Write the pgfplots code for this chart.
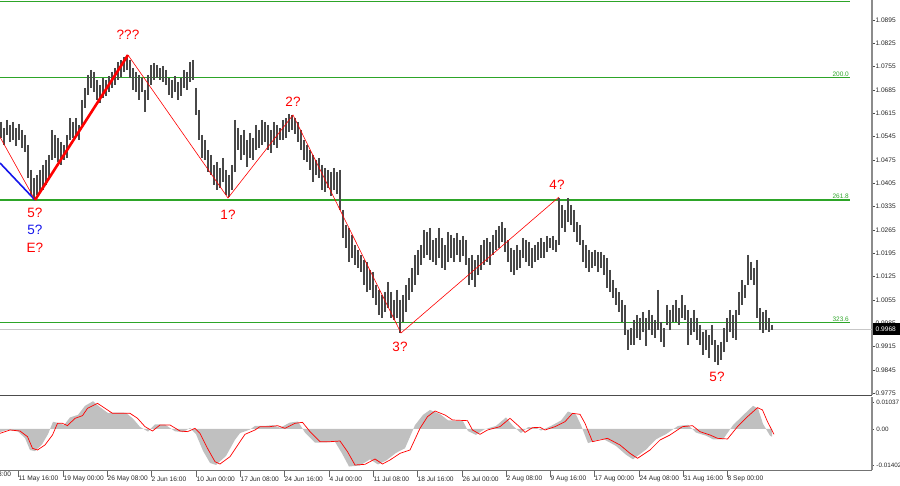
\documentclass[border=0pt]{standalone}
\usepackage{pgfplots}
\usepackage{pgfplotstable}
\pgfplotsset{compat=1.18}
\usepackage{fontspec}
\setmainfont{Liberation Sans}

\definecolor{lvl}{RGB}{45,165,40}
\definecolor{barcol}{RGB}{72,72,72}
\definecolor{zz}{RGB}{255,0,0}
\definecolor{bluez}{RGB}{20,20,235}
\definecolor{hist}{RGB}{192,192,192}

% price bars: x  high  low
\pgfplotstableread[row sep=\\]{
x hi lo\\
1 1.0589 1.0541\\ 4 1.0571 1.0520\\ 7 1.0595 1.0550\\ 10 1.0580 1.0529\\ 13 1.0589 1.0535\\
16 1.0571 1.0517\\ 19 1.0583 1.0535\\ 22 1.0565 1.0511\\ 25 1.0550 1.0499\\ 28 1.0520 1.0421\\
31 1.0445 1.0370\\ 34 1.0421 1.0355\\ 37 1.0430 1.0370\\ 40 1.0445 1.0379\\ 43 1.0460 1.0385\\
46 1.0475 1.0400\\ 49 1.0490 1.0421\\ 52 1.0565 1.0475\\ 55 1.0550 1.0481\\ 58 1.0541 1.0469\\
61 1.0529 1.0460\\ 64 1.0520 1.0475\\ 67 1.0550 1.0481\\ 70 1.0601 1.0535\\ 73 1.0589 1.0541\\
76 1.0601 1.0547\\ 79 1.0580 1.0535\\ 82 1.0655 1.0580\\ 85 1.0691 1.0631\\ 88 1.0730 1.0670\\
91 1.0745 1.0691\\ 94 1.0739 1.0679\\ 97 1.0715 1.0655\\ 100 1.0700 1.0646\\ 103 1.0721 1.0661\\
106 1.0715 1.0667\\ 109 1.0727 1.0679\\ 112 1.0739 1.0691\\ 115 1.0751 1.0700\\ 118 1.0769 1.0715\\
121 1.0775 1.0724\\ 124 1.0784 1.0739\\ 127 1.0790 1.0745\\ 130 1.0775 1.0721\\ 133 1.0751 1.0685\\
136 1.0739 1.0679\\ 139 1.0730 1.0655\\ 142 1.0721 1.0679\\ 145 1.0685 1.0619\\ 148 1.0730 1.0655\\
151 1.0760 1.0700\\ 154 1.0766 1.0715\\ 157 1.0760 1.0721\\ 160 1.0751 1.0715\\ 163 1.0757 1.0709\\
166 1.0745 1.0700\\ 169 1.0721 1.0670\\ 172 1.0715 1.0661\\ 175 1.0727 1.0679\\ 178 1.0709 1.0655\\
181 1.0721 1.0667\\ 184 1.0745 1.0691\\ 187 1.0739 1.0685\\ 190 1.0769 1.0709\\ 193 1.0775 1.0715\\
196 1.0691 1.0610\\ 199 1.0625 1.0535\\ 202 1.0550 1.0481\\ 205 1.0535 1.0475\\ 208 1.0505 1.0439\\
211 1.0490 1.0430\\ 214 1.0460 1.0400\\ 217 1.0469 1.0385\\ 220 1.0451 1.0391\\ 223 1.0481 1.0409\\
226 1.0445 1.0370\\ 229 1.0430 1.0364\\ 232 1.0460 1.0385\\ 235 1.0595 1.0439\\ 238 1.0571 1.0505\\
241 1.0550 1.0475\\ 244 1.0565 1.0490\\ 247 1.0535 1.0454\\ 250 1.0556 1.0481\\ 253 1.0541 1.0475\\
256 1.0580 1.0505\\ 259 1.0565 1.0511\\ 262 1.0595 1.0520\\ 265 1.0589 1.0529\\ 268 1.0580 1.0505\\
271 1.0565 1.0496\\ 274 1.0589 1.0520\\ 277 1.0580 1.0511\\ 280 1.0571 1.0535\\ 283 1.0595 1.0535\\
286 1.0601 1.0541\\ 289 1.0613 1.0559\\ 292 1.0610 1.0565\\ 295 1.0601 1.0553\\ 298 1.0589 1.0529\\
301 1.0565 1.0505\\ 304 1.0535 1.0475\\ 307 1.0520 1.0469\\ 310 1.0505 1.0445\\ 313 1.0490 1.0409\\
316 1.0475 1.0430\\ 319 1.0481 1.0421\\ 322 1.0460 1.0385\\ 325 1.0451 1.0379\\ 328 1.0445 1.0391\\
331 1.0439 1.0367\\ 334 1.0451 1.0385\\ 337 1.0439 1.0373\\ 340 1.0445 1.0325\\ 343 1.0325 1.0241\\
346 1.0280 1.0211\\ 349 1.0271 1.0169\\ 352 1.0250 1.0181\\ 355 1.0220 1.0160\\ 358 1.0205 1.0151\\
361 1.0190 1.0139\\ 364 1.0175 1.0100\\ 367 1.0169 1.0079\\ 370 1.0145 1.0085\\ 373 1.0139 1.0061\\
376 1.0100 1.0040\\ 379 1.0085 1.0010\\ 382 1.0070 1.0001\\ 385 1.0079 1.0019\\ 388 1.0109 1.0031\\
391 1.0079 1.0001\\ 394 1.0055 0.9995\\ 397 1.0085 1.0001\\ 400 1.0055 0.9956\\ 403 1.0070 0.9989\\
406 1.0100 1.0019\\ 409 1.0121 1.0055\\ 412 1.0151 1.0079\\ 415 1.0190 1.0100\\ 418 1.0205 1.0130\\
421 1.0220 1.0160\\ 424 1.0265 1.0181\\ 427 1.0259 1.0190\\ 430 1.0271 1.0175\\ 433 1.0235 1.0169\\
436 1.0241 1.0160\\ 439 1.0271 1.0181\\ 442 1.0241 1.0151\\ 445 1.0220 1.0145\\ 448 1.0259 1.0169\\
451 1.0250 1.0181\\ 454 1.0241 1.0169\\ 457 1.0256 1.0190\\ 460 1.0235 1.0169\\ 463 1.0247 1.0187\\
466 1.0235 1.0160\\ 469 1.0181 1.0100\\ 472 1.0190 1.0115\\ 475 1.0175 1.0094\\ 478 1.0190 1.0130\\
481 1.0220 1.0145\\ 484 1.0235 1.0160\\ 487 1.0241 1.0169\\ 490 1.0229 1.0160\\ 493 1.0250 1.0190\\
496 1.0265 1.0205\\ 499 1.0277 1.0211\\ 502 1.0289 1.0229\\ 505 1.0271 1.0199\\ 508 1.0235 1.0169\\
511 1.0211 1.0139\\ 514 1.0205 1.0130\\ 517 1.0220 1.0145\\ 520 1.0205 1.0151\\ 523 1.0241 1.0181\\
526 1.0235 1.0169\\ 529 1.0229 1.0157\\ 532 1.0211 1.0151\\ 535 1.0220 1.0169\\ 538 1.0229 1.0175\\
541 1.0241 1.0181\\ 544 1.0229 1.0181\\ 547 1.0247 1.0199\\ 550 1.0241 1.0211\\ 553 1.0247 1.0205\\
556 1.0235 1.0199\\ 559 1.0361 1.0220\\ 562 1.0340 1.0271\\ 565 1.0325 1.0259\\ 568 1.0361 1.0289\\
571 1.0340 1.0280\\ 574 1.0325 1.0259\\ 577 1.0289 1.0229\\ 580 1.0280 1.0220\\ 583 1.0235 1.0169\\
586 1.0220 1.0151\\ 589 1.0205 1.0139\\ 592 1.0199 1.0151\\ 595 1.0205 1.0157\\ 598 1.0199 1.0139\\
601 1.0199 1.0151\\ 604 1.0190 1.0130\\ 607 1.0181 1.0091\\ 610 1.0145 1.0079\\ 613 1.0115 1.0061\\
616 1.0091 1.0040\\ 619 1.0079 1.0019\\ 622 1.0055 0.9989\\ 625 1.0040 0.9950\\ 628 0.9965 0.9905\\
631 0.9971 0.9920\\ 634 0.9995 0.9920\\ 637 1.0010 0.9941\\ 640 1.0001 0.9935\\ 643 1.0019 0.9959\\
646 1.0001 0.9917\\ 649 1.0025 0.9965\\ 652 1.0010 0.9950\\ 655 0.9995 0.9941\\ 658 1.0085 0.9965\\
661 0.9989 0.9929\\ 664 0.9971 0.9914\\ 667 1.0040 0.9980\\ 670 1.0025 0.9965\\ 673 1.0040 0.9989\\
676 1.0055 0.9989\\ 679 1.0031 0.9980\\ 682 1.0070 1.0001\\ 685 1.0040 0.9995\\ 688 1.0025 0.9920\\
691 1.0001 0.9950\\ 694 1.0025 0.9959\\ 697 1.0001 0.9935\\ 700 0.9980 0.9920\\ 703 0.9959 0.9890\\
706 0.9965 0.9905\\ 709 0.9950 0.9881\\ 712 0.9980 0.9920\\ 715 0.9935 0.9869\\ 718 0.9920 0.9860\\
721 0.9929 0.9875\\ 724 0.9971 0.9899\\ 727 1.0001 0.9929\\ 730 1.0025 0.9959\\ 733 1.0010 0.9941\\
736 1.0025 0.9935\\ 739 1.0079 1.0010\\ 742 1.0115 1.0040\\ 745 1.0100 1.0061\\ 748 1.0190 1.0100\\
751 1.0169 1.0115\\ 754 1.0151 1.0100\\ 757 1.0175 1.0001\\ 760 1.0031 0.9965\\ 763 1.0019 0.9956\\
766 1.0025 0.9965\\ 769 1.0001 0.9959\\ 772 0.9980 0.9965\\
}\bars

\begin{document}
\begin{tikzpicture}
\path[use as bounding box] (0,0) rectangle (900pt,485pt);
\tikzset{wl/.style={font=\fontsize{13.5}{14}\selectfont}}

% ---------------- price panel
\begin{axis}[at={(0pt,89.5pt)}, anchor=south west, scale only axis,
 width=872pt, height=395.5pt, xmin=0, xmax=872, ymin=0.97685, ymax=1.0955,
 clip=false, axis x line*=bottom, axis y line*=right,
 x axis line style={draw=black!70, line width=1.6pt},
 y axis line style={draw=black!45, line width=1.5pt},
 xtick=\empty, tick align=outside, major tick length=3pt,
 ytick={0.9775,0.9845,0.9915,0.9985,1.0055,1.0125,1.0195,1.0265,1.0335,1.0405,1.0475,1.0545,1.0615,1.0685,1.0755,1.0825,1.0895},
 yticklabels={0.9775,0.9845,0.9915,0.9985,1.0055,1.0125,1.0195,1.0265,1.0335,1.0405,1.0475,1.0545,1.0615,1.0685,1.0755,1.0825,1.0895},
 ytick style={draw=black!70, line width=0.5pt},
 yticklabel style={font=\fontsize{6.6}{7}\selectfont, text=black!85, anchor=west, inner sep=0.3pt},
 /pgf/number format/assume math mode=true]

% levels
\addplot[draw=lvl, line width=1.5pt] coordinates {(0,1.0951) (850,1.0951)};
\addplot[draw=lvl, line width=1.5pt] coordinates {(0,1.0723) (850,1.0723)};
\addplot[draw=lvl, line width=1.5pt] coordinates {(0,1.0355) (850,1.0355)};
\addplot[draw=lvl, line width=1.5pt] coordinates {(0,0.99881) (850,0.99881)};
\addplot[draw=black!22, line width=1pt] coordinates {(0,0.99671) (872,0.99671)};

% bars
\addplot[draw=none, mark=none, error bars/.cd, y dir=minus, y explicit, error mark=none,
 error bar style={draw=barcol, solid, line width=1.3pt}]
 table[x=x, y=hi, y error minus expr=\thisrow{hi}-\thisrow{lo}] {\bars};

% wave lines
\addplot[draw=bluez, line width=1.6pt] coordinates {(0,1.0466) (35,1.0355)};
\addplot[draw=zz, line width=0.6pt] coordinates {(0,1.0544) (35,1.0355)};
\addplot[draw=zz, line width=2.6pt] coordinates {(35,1.0355) (128,1.0790)};
\addplot[draw=zz, line width=0.6pt] coordinates {(128,1.0790) (228,1.0361) (293,1.0610) (401,0.9956) (559,1.0364)};

% wave labels
\node[wl, text=zz] at (axis cs:128,1.0850) {???};
\node[wl, text=zz] at (axis cs:35,1.0316) {5?};
\node[wl, text=bluez] at (axis cs:35,1.0265) {5?};
\node[wl, text=zz] at (axis cs:35,1.0211) {E?};
\node[wl, text=zz] at (axis cs:228,1.0310) {1?};
\node[wl, text=zz] at (axis cs:293,1.0649) {2?};
\node[wl, text=zz] at (axis cs:400,0.9914) {3?};
\node[wl, text=zz] at (axis cs:557,1.0400) {4?};
\node[wl, text=zz] at (axis cs:717,0.9824) {5?};

% level labels
\node[anchor=south east, inner sep=1pt, text=lvl, font=\fontsize{6.5}{7}\selectfont] at (axis cs:850,1.0723) {200.0};
\node[anchor=south east, inner sep=1pt, text=lvl, font=\fontsize{6.5}{7}\selectfont] at (axis cs:850,1.0355) {261.8};
\node[anchor=south east, inner sep=1pt, text=lvl, font=\fontsize{6.5}{7}\selectfont] at (axis cs:850,0.99881) {323.6};

% current price tag
\node[anchor=west, fill=black, text=white, inner xsep=2.5pt, inner ysep=1.5pt, minimum height=12pt, text width=28pt, font=\fontsize{6.6}{7}\selectfont] at (axis cs:873,0.99671) {0.9968};
\end{axis}

% ---------------- indicator panel
\begin{axis}[at={(0pt,15pt)}, anchor=south west, scale only axis,
 width=872pt, height=72.5pt, xmin=0, xmax=872, ymin=-15.95, ymax=12.25,
 clip=false, axis x line*=bottom, axis y line*=right,
 x axis line style={draw=black!55, line width=1pt},
 y axis line style={draw=black!45, line width=1.5pt},
 tick align=outside,
 xtick={18,63,107,151,196,240,284,329,373,417,462,506,550,594,639,683,727},
 xticklabels={11 May 16:00,19 May 00:00,26 May 08:00,2 Jun 16:00,10 Jun 00:00,17 Jun 08:00,24 Jun 16:00,4 Jul 00:00,11 Jul 08:00,18 Jul 16:00,26 Jul 00:00,2 Aug 08:00,9 Aug 16:00,17 Aug 00:00,24 Aug 08:00,31 Aug 16:00,8 Sep 00:00},
 xtick style={draw=black!60, line width=0.5pt}, x tick style={/pgfplots/major tick length=7pt},
 xticklabel style={font=\fontsize{6.6}{7}\selectfont, text=black!85, anchor=west, inner sep=0.5pt, yshift=-5pt},
 ytick={-14.02,0,10.37}, yticklabels={-0.01402,0.00,0.01037},
 ytick style={draw=black!70, line width=0.5pt}, y tick style={/pgfplots/major tick length=2pt},
 yticklabel style={font=\fontsize{6.3}{7}\selectfont, text=black!85, anchor=west, inner sep=0pt},
 /pgf/number format/assume math mode=true]

% histogram (value x 1000)
\addplot[fill=hist, draw=none] coordinates {
(0,-1.2) (8,-0.3) (18,-1.0) (25,-3.5) (30,-8.2) (35,-8.6) (42,-6.0) (48,-2.0) (53,2.8) (60,2.2)
(64,1.5) (70,4.5) (78,5.5) (85,9.0) (93,10.8) (100,8.5) (108,6.2) (116,6.4) (126,6.3) (133,4.0)
(140,0.8) (148,-1.0) (155,1.8) (165,1.7) (175,-0.9) (183,-1.2) (190,0.4) (196,-2.0) (203,-8.5) (210,-13.2)
(216,-14.0) (226,-10.5) (235,-4.2) (240,-1.6) (250,-0.2) (255,1.2) (265,1.2) (273,1.5) (280,0.5) (290,2.5)
(298,2.9) (305,-1.4) (315,-5.3) (325,-5.2) (335,-5.0) (342,-9.5) (349,-14.6) (360,-14.2) (370,-11.8) (378,-13.8)
(386,-12.3) (396,-9.3) (405,-7.5) (415,1.5) (423,5.5) (430,7.4) (440,5.8) (448,3.4) (463,3.0) (468,-0.8)
(476,-2.3) (484,-0.2) (496,1.2) (506,4.5) (513,1.2) (521,-1.6) (528,0.7) (536,0.6) (541,-0.6) (551,1.2)
(561,3.3) (568,6.8) (576,5.6) (581,1.5) (588,-5.5) (596,-4.4) (603,-3.8) (616,-6.6) (626,-10.0) (633,-11.8)
(646,-8.0) (656,-4.0) (666,-2.0) (678,1.2) (688,1.6) (696,-1.4) (706,-2.6) (713,-4.0) (723,-4.0) (733,1.5)
(743,5.3) (753,9.0) (758,8.0) (763,2.0) (770,-2.6) (772,-3.0)} \closedcycle;

% signal line
\addplot[draw=zz, line width=0.7pt] coordinates {
(0,-1.69) (10,-0.39) (20,-0.78) (27.5,-2.98) (32.5,-7.52) (37.5,-8.17) (45,-6.22) (52.5,-2.33) (57.5,2.20) (62.5,2.20)
(67.5,1.30) (75,4.15) (82.5,5.19) (87.5,8.04) (97.5,9.98) (105,8.04) (112.5,6.09) (120,6.09) (130,6.09) (137.5,4.15)
(145,0.91) (152.5,-0.78) (160,1.56) (170,1.56) (180,-0.78) (187.5,-1.04) (195,0.26) (200,-1.69) (207.5,-7.52) (215,-12.71)
(220,-13.62) (230,-10.76) (240,-4.93) (245,-2.07) (255,-0.39) (260,0.91) (270,0.91) (277.5,1.30) (285,0.26) (295,2.20)
(302.5,2.59) (310,-1.04) (320,-4.93) (330,-4.93) (340,-4.67) (347.5,-8.82) (355,-14.0) (365,-13.74) (375,-11.67) (382.5,-13.62)
(390,-12.06) (400,-9.47) (410,-8.17) (420,0.26) (427.5,4.80) (435,7.00) (445,5.45) (452.5,3.50) (467.5,3.24) (472.5,-0.39)
(480,-2.07) (487.5,-0.39) (500,0.91) (510,4.15) (517.5,1.56) (525,-1.30) (532.5,0.52) (540,0.65) (545,-0.39) (555,0.91)
(565,2.85) (572.5,6.09) (580,5.71) (585,2.20) (592.5,-4.93) (600,-4.28) (607.5,-3.63) (620,-6.22) (630,-9.47) (637.5,-11.41)
(650,-8.17) (660,-4.28) (670,-2.33) (682.5,0.91) (692.5,1.30) (700,-1.04) (710,-2.33) (717.5,-3.63) (727.5,-3.89) (737.5,0.91)
(747.5,4.80) (757.5,8.30) (762.5,7.39) (767.5,2.85) (774,-2.07)};

% date label cut at the left edge
\node[anchor=west, inner sep=0.5pt, yshift=-5pt, text=black!85, font=\fontsize{6.6}{7}\selectfont] at (axis cs:-26,-15.95) {4 May 08:00};
\end{axis}
\end{tikzpicture}
\end{document}
